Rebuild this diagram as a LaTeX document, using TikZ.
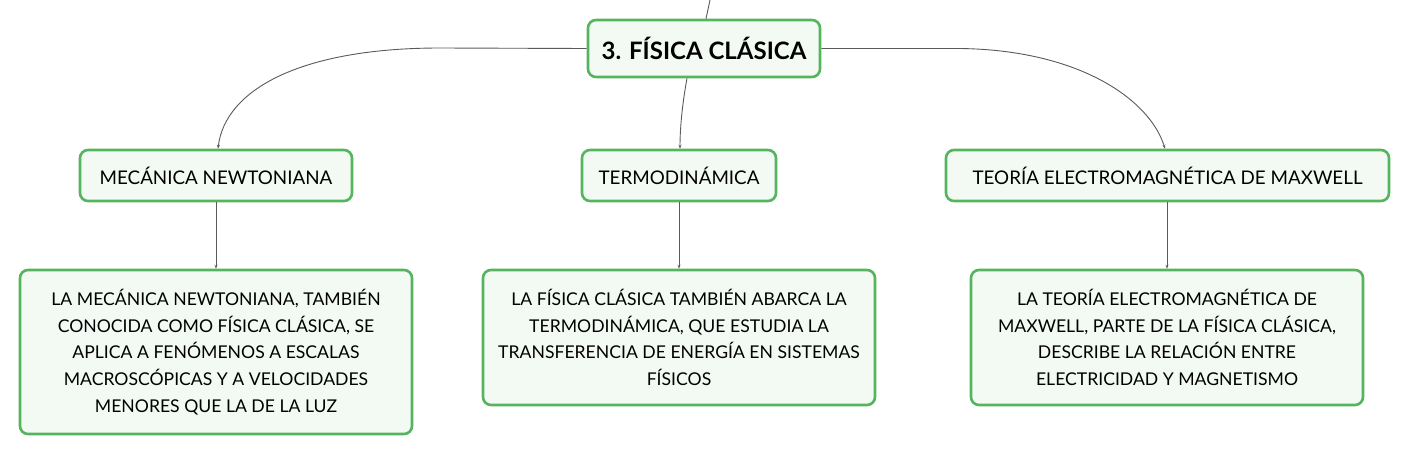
\documentclass[tikz,border=0pt]{standalone}
\usepackage{fontspec}
\setmainfont{Lato}
\usetikzlibrary{arrows.meta}
\definecolor{boxgreen}{HTML}{55B45E}
\definecolor{boxfill}{HTML}{F3FAF4}
\definecolor{linegray}{HTML}{5A5A5A}
\tikzset{
  mapbox/.style={draw=boxgreen, line width=2.6pt, fill=boxfill, rounded corners=8pt, align=center, inner sep=0pt, font=\fontsize{17.6}{26.7}\selectfont},
  childbox/.style={mapbox, font=\fontsize{18.8}{22}\selectfont},
  titlebox/.style={mapbox, font=\bfseries\fontsize{24}{28}\selectfont},
  conn/.style={draw=linegray, line width=0.9pt, -{Stealth[length=4pt,width=3pt]}},
  plain/.style={draw=linegray, line width=0.9pt}
}
\begin{document}
\begin{tikzpicture}[x=1pt,y=-1pt]
\useasboundingbox (0,0) rectangle (1409,455);
\node[titlebox, minimum width=232pt, minimum height=57pt] (root) at (704,48.5) {3. FÍSICA CLÁSICA};
\coordinate (up) at (710,0);
\node[childbox, minimum width=272pt, minimum height=51pt] (mec) at (216,175.5) {MECÁNICA NEWTONIANA};
\node[childbox, minimum width=194pt, minimum height=51pt] (ter) at (679,175.5) {TERMODINÁMICA};
\node[childbox, minimum width=443pt, minimum height=51pt] (max) at (1167.5,175.5) {TEORÍA ELECTROMAGNÉTICA DE MAXWELL};
\node[mapbox, minimum width=392pt, minimum height=164pt] (mecd) at (216,352) {LA MECÁNICA NEWTONIANA, TAMBIÉN\\CONOCIDA COMO FÍSICA CLÁSICA, SE\\APLICA A FENÓMENOS A ESCALAS\\MACROSCÓPICAS Y A VELOCIDADES\\MENORES QUE LA DE LA LUZ};
\node[mapbox, minimum width=392pt, minimum height=135pt] (terd) at (679,337.5) {LA FÍSICA CLÁSICA TAMBIÉN ABARCA LA\\TERMODINÁMICA, QUE ESTUDIA LA\\TRANSFERENCIA DE ENERGÍA EN SISTEMAS\\FÍSICOS};
\node[mapbox, minimum width=392pt, minimum height=135pt] (maxd) at (1167,337.5) {LA TEORÍA ELECTROMAGNÉTICA DE\\MAXWELL, PARTE DE LA FÍSICA CLÁSICA,\\DESCRIBE LA RELACIÓN ENTRE\\ELECTRICIDAD Y MAGNETISMO};
% incoming
\draw[plain] (up) -- (root.north -| 706,0);
% root to children
\draw[conn] (root.west) -- (440,48) .. controls (300,48) and (225,90) .. (mec.north -| 218,0);
\draw[conn] (root.south -| 687,0) .. controls (683,100) and (680,125) .. (ter.north -| 680,0);
\draw[conn] (root.east) -- (960,48.5) .. controls (1080,50) and (1150,100) .. (max.north -| 1165,0);
% children to details
\draw[conn] (mec.south) -- (mecd.north);
\draw[conn] (ter.south) -- (terd.north);
\draw[conn] (max.south -| maxd.north) -- (maxd.north);
\end{tikzpicture}
\end{document}
